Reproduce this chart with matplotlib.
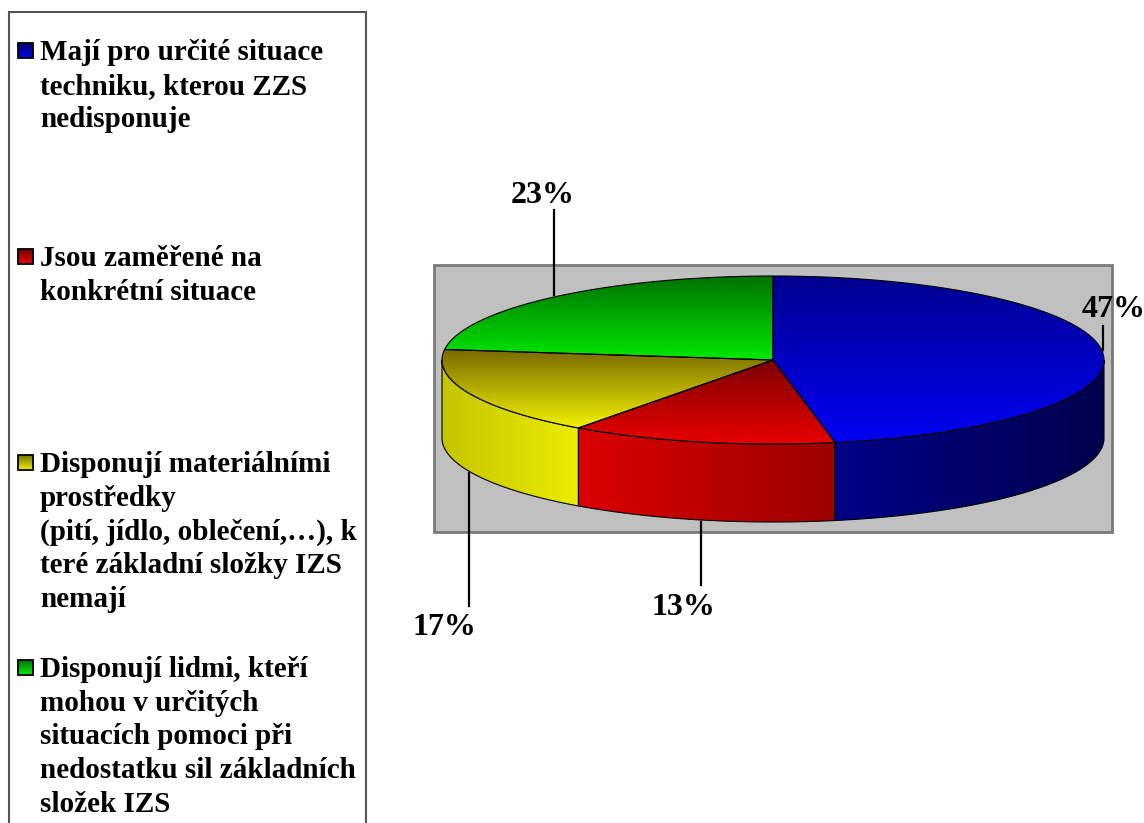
import numpy as np
import matplotlib.pyplot as plt
from matplotlib.colors import to_rgb
from matplotlib.patches import Polygon, Rectangle

# --------------------------------------------------------------
# Data
# --------------------------------------------------------------
labels = [
    "Mají pro určité situace\ntechniku, kterou ZZS\nnedisponuje",
    "Jsou zaměřené na\nkonkrétní situace",
    "Disponují materiálními\nprostředky\n(pití, jídlo, oblečení,…), k\nteré základní složky IZS\nnemají",
    "Disponují lidmi, kteří\nmohou v určitých\nsituacích pomoci při\nnedostatku sil základních\nsložek IZS",
]
values = [47, 13, 17, 23]

# top gradient (dark, bright), side gradient (left, right)
top_colors = [("#000090", "#0000f4"), ("#7c0000", "#ea0000"),
              ("#786800", "#f2f200"), ("#007000", "#00ea00")]
side_colors = [("#000088", "#00004c"), ("#dc0000", "#9c0000"),
               ("#c4c400", "#ecec00"), ("#006000", "#00a000")]
legend_colors = [("#000070", "#0000f0"), ("#700000", "#f00000"),
                 ("#707000", "#f0f000"), ("#007000", "#00f000")]

# --------------------------------------------------------------
# Geometry (pixels)
# --------------------------------------------------------------
cx, cy = 773, 360
rx, ry = 331, 84
depth = 78

plt.rcParams['font.family'] = ['Liberation Serif', 'DejaVu Serif']
fig = plt.figure(figsize=(11.44, 8.23), dpi=100)
ax = fig.add_axes([0, 0, 1, 1])
ax.axis('off')


def pt(theta, dy=0.0):
    t = np.radians(theta)
    return cx + rx * np.cos(t), cy - ry * np.sin(t) + dy


def fill_grad(verts, c1, c2, vertical=True, z=2, lw=0.8):
    verts = np.array(verts)
    poly = Polygon(verts, closed=True, facecolor='none', edgecolor='black',
                   lw=lw, zorder=z + 0.5)
    ax.add_patch(poly)
    x0, y0 = verts.min(axis=0)
    x1, y1 = verts.max(axis=0)
    a = np.array(to_rgb(c1))
    b = np.array(to_rgb(c2))
    s = np.linspace(0, 1, 256)
    g = a[None, :] * (1 - s[:, None]) + b[None, :] * s[:, None]
    img = g[:, None, :] if vertical else g[None, :, :]
    im = ax.imshow(img, extent=(x0, x1, y1, y0), origin='upper',
                   aspect='auto', zorder=z, interpolation='bilinear')
    im.set_clip_path(poly)


# gray background box
ax.add_patch(Rectangle((434, 265), 678, 267, facecolor="#c0c0c0",
                       edgecolor="#7a7a7a", lw=2, zorder=1))

# angles: start at top, clockwise
angles = 360 * np.array(values) / sum(values)
starts = 90 - np.concatenate([[0], np.cumsum(angles)[:-1]])
ends = starts - angles

# side faces (front half only: theta in [-180, 0])
for i in range(len(values)):
    a0, a1 = starts[i], ends[i]
    hi, lo = min(a0, 0), max(a1, -180)
    if hi <= lo:
        continue
    th = np.linspace(hi, lo, 80)
    top = [pt(t) for t in th]
    bot = [pt(t, depth) for t in th[::-1]]
    fill_grad(top + bot, side_colors[i][0], side_colors[i][1], vertical=False, z=2)

# top faces
for i in range(len(values)):
    th = np.linspace(starts[i], ends[i], 120)
    verts = [(cx, cy)] + [pt(t) for t in th]
    fill_grad(verts, top_colors[i][0], top_colors[i][1], vertical=True, z=4)

# percentage labels with leader lines: (line length, text dx, baseline dy)
leader = [(-24, 11, -9), (63, -17, 30), (133, -25, 29), (-85, -11, -7)]
for i in range(len(values)):
    mid = (starts[i] + ends[i]) / 2
    front = np.sin(np.radians(mid)) < 0
    x, y = pt(mid, depth + 2 if front else -2)
    ln, dx, dy = leader[i]
    ax.plot([x, x], [y, y + ln], color='black', lw=1.6, zorder=6)
    ax.text(x + dx, y + ln + dy, f"{values[i]}%", ha='center', va='baseline',
            fontsize=23, fontweight='bold', zorder=7)

# legend
ax.add_patch(Rectangle((9, 12), 357, 830, facecolor='white',
                       edgecolor="#555555", lw=1.5, zorder=1))
leg_y = [39, 245, 451, 656]
for i, lab in enumerate(labels):
    fill_grad([(18, leg_y[i] + 4), (33, leg_y[i] + 4), (33, leg_y[i] + 19), (18, leg_y[i] + 19)],
              legend_colors[i][0], legend_colors[i][1], vertical=True, z=3, lw=1.3)
    ax.text(40, leg_y[i], lab, ha='left', va='top', fontsize=21,
            fontweight='bold', linespacing=1.32, zorder=3)

ax.set_xlim(0, 1144)
ax.set_ylim(823, 0)
fig.savefig("out.png", dpi=100)
